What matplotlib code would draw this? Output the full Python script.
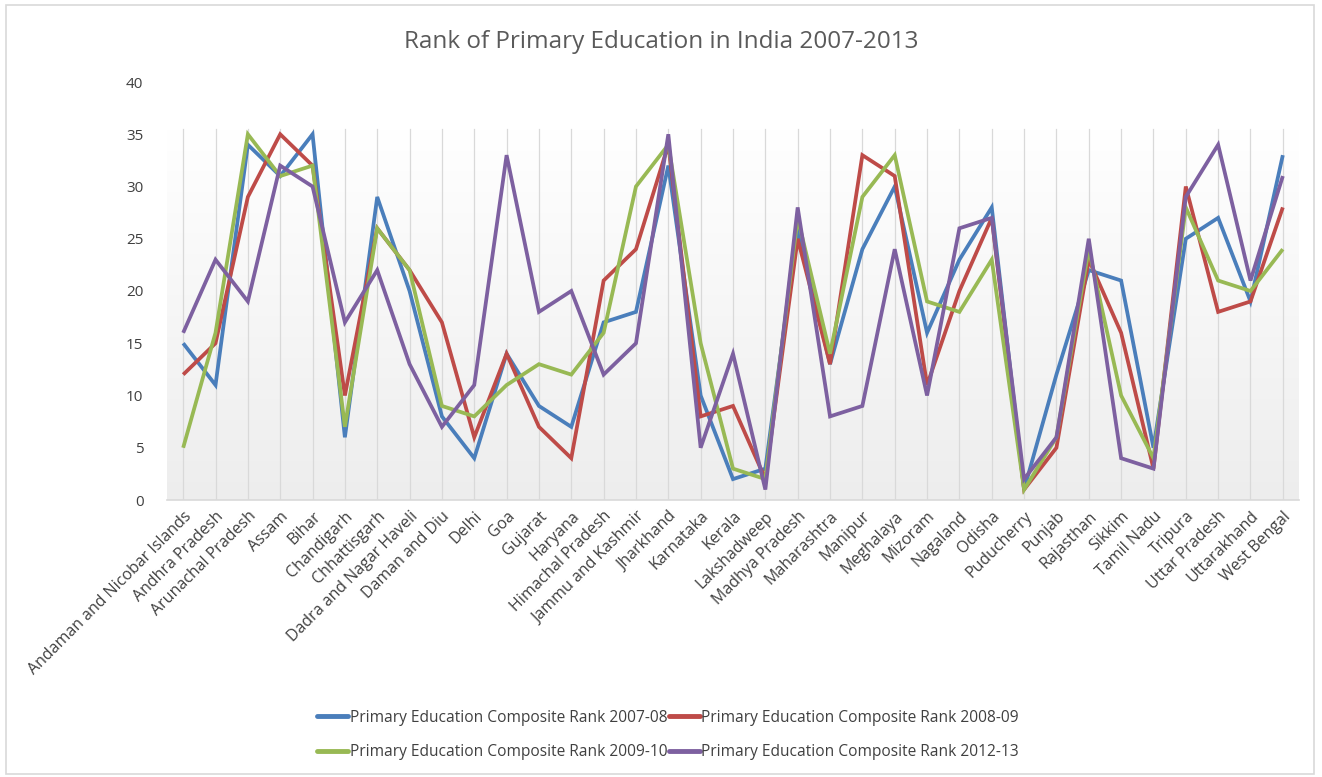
import matplotlib
matplotlib.use("Agg")
import matplotlib.pyplot as plt
import numpy as np

states = ["Andaman and Nicobar Islands", "Andhra Pradesh", "Arunachal Pradesh", "Assam", "Bihar",
          "Chandigarh", "Chhattisgarh", "Dadra and Nagar Haveli", "Daman and Diu", "Delhi", "Goa",
          "Gujarat", "Haryana", "Himachal Pradesh", "Jammu and Kashmir", "Jharkhand", "Karnataka",
          "Kerala", "Lakshadweep", "Madhya Pradesh", "Maharashtra", "Manipur", "Meghalaya", "Mizoram",
          "Nagaland", "Odisha", "Puducherry", "Punjab", "Rajasthan", "Sikkim", "Tamil Nadu", "Tripura",
          "Uttar Pradesh", "Uttarakhand", "West Bengal"]

rank_2007_08 = [15, 11, 34, 31, 35, 6, 29, 20, 8, 4, 14, 9, 7, 17, 18, 32, 10, 2, 3, 26, 13,
                24, 30, 16, 23, 28, 1, 12, 22, 21, 5, 25, 27, 19, 33]
rank_2008_09 = [12, 15, 29, 35, 32, 10, 26, 22, 17, 6, 14, 7, 4, 21, 24, 34, 8, 9, 2, 25, 13,
                33, 31, 11, 20, 27, 1, 5, 23, 16, 3, 30, 18, 19, 28]
rank_2009_10 = [5, 16, 35, 31, 32, 7, 26, 22, 9, 8, 11, 13, 12, 16, 30, 34, 15, 3, 2, 27, 14,
                29, 33, 19, 18, 23, 1, 6, 24, 10, 4, 28, 21, 20, 24]
rank_2012_13 = [16, 23, 19, 32, 30, 17, 22, 13, 7, 11, 33, 18, 20, 12, 15, 35, 5, 14, 1, 28, 8,
                9, 24, 10, 26, 27, 2, 6, 25, 4, 3, 29, 34, 21, 31]

series = [
    ("Primary Education Composite Rank 2007-08", rank_2007_08, "#4A7EBB"),
    ("Primary Education Composite Rank 2008-09", rank_2008_09, "#BE4B48"),
    ("Primary Education Composite Rank 2009-10", rank_2009_10, "#98B954"),
    ("Primary Education Composite Rank 2012-13", rank_2012_13, "#7D60A0"),
]

plt.rcParams['font.family'] = ['Open Sans', 'DejaVu Sans']

W, H = 1322, 777
fig = plt.figure(figsize=(W / 100, H / 100), dpi=100)
fig.patch.set_facecolor("white")

border = plt.Rectangle((6 / W, 3 / H), (W - 14) / W, (H - 8) / H, transform=fig.transFigure,
                       fill=False, edgecolor="#d9d9d9", linewidth=1.2)
fig.add_artist(border)

left, right = 167, 1299
top, bottom = 82, 500
ax = fig.add_axes([left / W, (H - bottom) / H, (right - left) / W, (bottom - top) / H])

x = np.arange(len(states))
ax.set_xlim(-0.5, len(states) - 0.5)
ax.set_ylim(0, 40)

grad = np.linspace(0.93, 1.0, 256).reshape(-1, 1)
ax.imshow(np.dstack([grad, grad, grad]), extent=(-0.5, len(states) - 0.5, 0, 35.5),
          aspect="auto", origin="lower", zorder=0)

for xi in x:
    ax.axvline(xi, ymin=0, ymax=35.5 / 40, color="#d9d9d9", linewidth=0.9, zorder=1)

handles = []
for label, vals, col in series:
    h, = ax.plot(x, vals, color=col, linewidth=2.7, label=label, zorder=3,
                 solid_joinstyle="miter", solid_capstyle="butt")
    handles.append(h)

for s in ["top", "right", "left"]:
    ax.spines[s].set_visible(False)
ax.spines["bottom"].set_color("#d9d9d9")
ax.spines["bottom"].set_linewidth(1.2)

ax.set_yticks(range(0, 41, 5))
ax.tick_params(axis="y", length=0, pad=17, labelsize=11, labelcolor="#404040")
ax.set_xticks(x)
ax.set_xticklabels(states, rotation=45, ha="right", rotation_mode="anchor",
                   fontsize=11.5, color="#404040")
ax.tick_params(axis="x", length=0, pad=6)

fig.text(0.5, 1 - 42 / H, "Rank of Primary Education in India 2007-2013", ha="center",
         va="center", fontsize=17.5, color="#5a5a5a")

# row-major legend order: matplotlib fills columns first
order = [0, 2, 1, 3]
leg = fig.legend([handles[i] for i in order], [series[i][0] for i in order], ncol=2,
                 loc="center", bbox_to_anchor=(668 / W, 1 - 735 / H),
                 frameon=False, fontsize=11.2, handlelength=2.0, handletextpad=0.1,
                 columnspacing=0.1, labelspacing=1.2, labelcolor="#404040")
for lh in leg.get_lines():
    lh.set_linewidth(3.5)
    lh.set_solid_capstyle("round")

fig.savefig("out.png", dpi=100)
